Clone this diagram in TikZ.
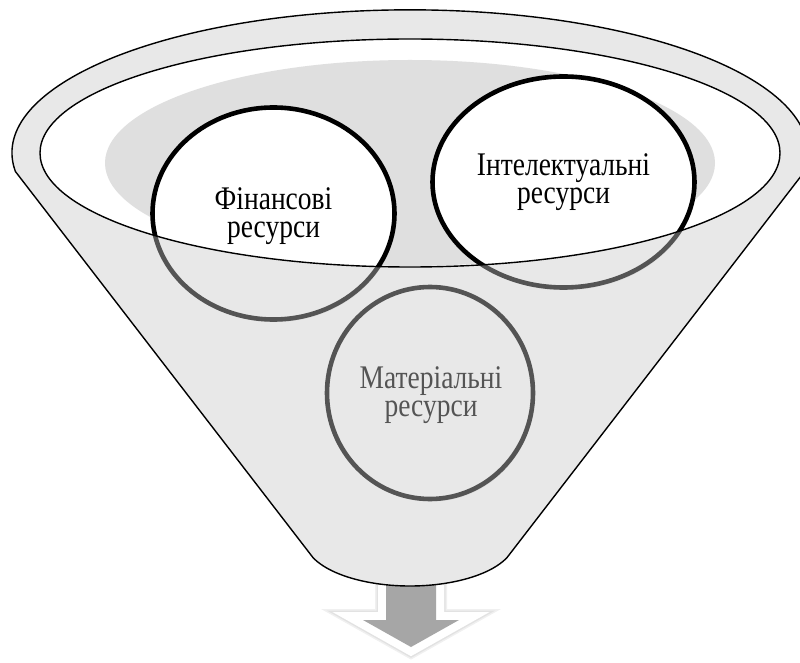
\documentclass[tikz,border=0pt]{standalone}
\usepackage{fontspec}
\setmainfont{Liberation Serif}
\usetikzlibrary{shapes.geometric, shadows}

\definecolor{openinggray}{gray}{0.875}
\definecolor{veil}{gray}{0.79}
\definecolor{arrowgray}{gray}{0.65}

\newcommand\twolines[2]{\scalebox{1}[1.2]{\begin{tabular}{@{}c@{}}#1\\#2\end{tabular}}}

\tikzset{
  ring/.style={ellipse, draw=black, line width=4.6pt, fill=white, inner sep=0pt,
               drop shadow={opacity=0.18, shadow xshift=1.5pt, shadow yshift=-2.5pt}},
  ringtext/.style={inner sep=0pt, font=\fontsize{27.5}{23.3}\selectfont},
  outline/.style={draw=black, line width=1.4pt},
  veilfill/.style={fill=veil, fill opacity=0.42, even odd rule},
}

\begin{document}
\begin{tikzpicture}[x=1pt, y=1pt]
  \useasboundingbox (0,0) rectangle (800,662);

  % outlet arrow (drawn first, so the funnel bottom hides its top)
  \draw[black, opacity=0.06, line width=22pt, line join=miter]
    (386,88) -- (436,88) -- (436,42) -- (459,42) -- (411,15) -- (363,42) -- (386,42) -- cycle;
  \draw[black, opacity=0.06, line width=19pt, line join=miter]
    (386,88) -- (436,88) -- (436,42) -- (459,42) -- (411,15) -- (363,42) -- (386,42) -- cycle;
  \draw[white, line width=16pt, line join=miter]
    (386,88) -- (436,88) -- (436,42) -- (459,42) -- (411,15) -- (363,42) -- (386,42) -- cycle;
  \fill[arrowgray]
    (386,88) -- (436,88) -- (436,42) -- (459,42) -- (411,15) -- (363,42) -- (386,42) -- cycle;

  % funnel body, opaque white base
  \fill[white] (15.4,490.5) arc[start angle=187.5, end angle=-7.5, x radius=398, y radius=143]
    -- (507,104.4) arc[start angle=-22.5, end angle=-157.5, x radius=105, y radius=46] -- cycle;

  % shaded floor of the opening
  \begin{scope}
    \clip (410,509) ellipse[x radius=370, y radius=114];
    \fill[openinggray] (410,499) ellipse[x radius=305, y radius=103];
  \end{scope}

  % resource circles and their captions
  \node[ring, minimum width=242pt, minimum height=212pt] (fin) at (273.5,448.5) {};
  \node[ringtext] (fin-text) at ([yshift=-3pt]fin.center) {\twolines{Фінансові}{ресурси}};
  \node[ring, minimum width=262pt, minimum height=211pt] (intel) at (563.5,480) {};
  \node[ringtext] (intel-text) at ([yshift=-1pt]intel.center) {\twolines{Інтелектуальні}{ресурси}};
  \node[ring, minimum width=206pt, minimum height=212pt] (mat) at (430,269) {};
  \node[ringtext] (mat-text) at ([xshift=1pt, yshift=-3pt]mat.center) {\twolines{Матеріальні}{ресурси}};

  % translucent funnel wall over everything outside the opening
  \path[veilfill] (15.4,490.5) arc[start angle=187.5, end angle=-7.5, x radius=398, y radius=143]
    -- (507,104.4) arc[start angle=-22.5, end angle=-157.5, x radius=105, y radius=46] -- cycle
    (410,509) ellipse[x radius=370, y radius=114];

  % funnel contours
  \draw[outline, line join=round] (15.4,490.5) arc[start angle=187.5, end angle=-7.5, x radius=398, y radius=143]
    -- (507,104.4) arc[start angle=-22.5, end angle=-157.5, x radius=105, y radius=46] -- cycle;
  \draw[outline] (410,509) ellipse[x radius=370, y radius=114];
\end{tikzpicture}
\end{document}
